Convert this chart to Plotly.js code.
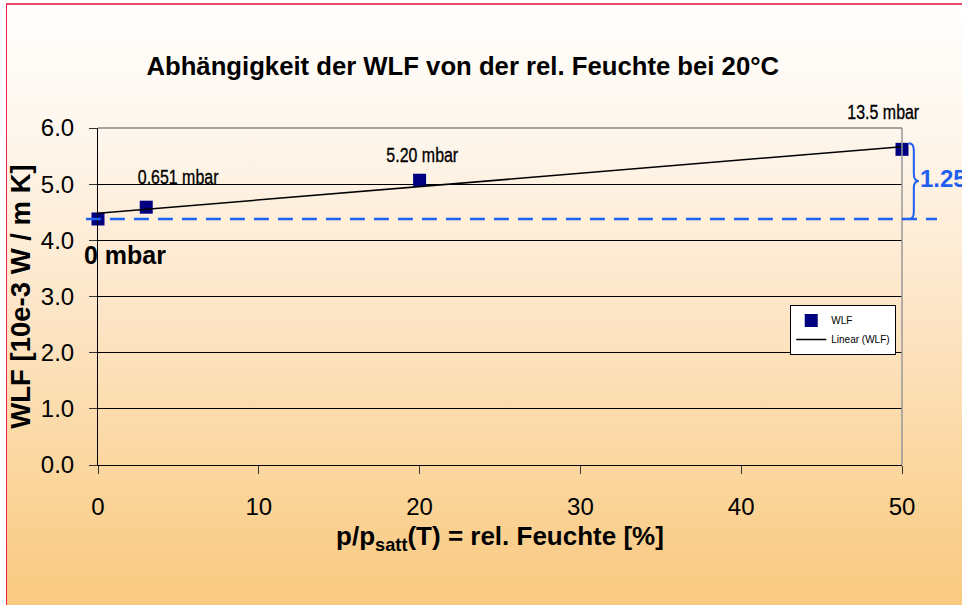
<!DOCTYPE html>
<html>
<head>
<meta charset="utf-8">
<script src="https://cdn.plot.ly/plotly-3.0.1.min.js"></script>
<style>
html,body{margin:0;padding:0;width:962px;height:605px;overflow:hidden;background:#fff;}
#bg{position:absolute;left:6px;top:3px;width:956px;height:602px;
  border-left:1.5px solid #f0204a;border-top:2px solid #ec4a66;box-sizing:border-box;
  background:linear-gradient(to bottom,#fffefd 0%,#fef6ec 22%,#fde6c8 50%,#fbd69e 78%,#f9c97f 100%);}
#chart{position:absolute;left:0;top:0;width:962px;height:605px;}
.narrowlbl text{transform-box:fill-box;transform-origin:center;transform:scaleX(0.76);
  stroke:#000;stroke-width:0.35px;}
</style>
</head>
<body>
<div id="bg"></div>
<div id="chart"></div>
<script>
// Data
const humidity = [0, 3, 20, 50];                  // rel. Feuchte [%]
const wlf = [4.38, 4.59, 5.07, 5.62];             // WLF [10e-3 W / m K]
const pointLabels = ['0 mbar', '0.651 mbar', '5.20 mbar', '13.5 mbar'];
const xTicks = [0, 10, 20, 30, 40, 50];
const yTicks = [0, 1, 2, 3, 4, 5, 6];
const yTickText = ['0.0', '1.0', '2.0', '3.0', '4.0', '5.0', '6.0'];
const diffLabel = '1.25';

// Linear trendline (least squares) from data
const n = humidity.length;
const mx = humidity.reduce((a, b) => a + b, 0) / n;
const my = wlf.reduce((a, b) => a + b, 0) / n;
let sxy = 0, sxx = 0;
for (let i = 0; i < n; i++) { sxy += (humidity[i] - mx) * (wlf[i] - my); sxx += (humidity[i] - mx) ** 2; }
const slope = sxy / sxx, intercept = my - slope * mx;
const trendX = [humidity[0], humidity[n - 1]];
const trendY = trendX.map(x => intercept + slope * x);

const sans = '"Liberation Sans", Arial, sans-serif';

const traces = [
  {x: humidity, y: wlf, type: 'scatter', mode: 'markers', name: 'WLF', cliponaxis: false,
   marker: {symbol: 'square', size: 13, color: '#000080'}},
  {x: trendX, y: trendY, type: 'scatter', mode: 'lines', name: 'Linear (WLF)',
   line: {color: '#000000', width: 1.5}}
];

const labelShift = [[27, -36], [32, 31], [3, 26], [-19, 38]];
const annotations = pointLabels.map((t, i) => ({
  x: humidity[i], y: wlf[i], xref: 'x', yref: 'y', text: t, showarrow: false,
  xshift: labelShift[i][0], yshift: labelShift[i][1],
  font: i === 0 ? {family: sans, size: 25, color: '#000', weight: 'bold'}
                : {family: sans, size: 21, color: '#000'}
}));
annotations.push({
  x: 1.0205, xref: 'paper', y: (wlf[0] + wlf[n - 1]) / 2 + 0.1, yref: 'y', xanchor: 'left',
  text: '<b>' + diffLabel + '</b>', showarrow: false,
  font: {family: sans, size: 24, color: '#1f5ff0'}
});

// brace path (x in paper, y in data)
const bx0 = 1.0085, bw = 0.0062;
const yt = 5.73, yb = wlf[0], ym = (yt + yb) / 2, r = 0.13;
const brace = `M ${bx0},${yt} Q ${bx0 + bw},${yt} ${bx0 + bw},${yt - r} L ${bx0 + bw},${ym + r} Q ${bx0 + bw},${ym} ${bx0 + 2 * bw},${ym} Q ${bx0 + bw},${ym} ${bx0 + bw},${ym - r} L ${bx0 + bw},${yb + r} Q ${bx0 + bw},${yb} ${bx0},${yb}`;

const layout = {
  width: 962, height: 605,
  margin: {l: 98, r: 60, t: 128, b: 140},
  paper_bgcolor: 'rgba(0,0,0,0)', plot_bgcolor: 'rgba(0,0,0,0)',
  font: {family: sans, color: '#000'},
  title: {text: '<b>Abhängigkeit der WLF von der rel. Feuchte bei 20°C</b>',
          x: 0.481, xanchor: 'center', y: 0.891, yanchor: 'middle',
          font: {family: sans, size: 25.7, color: '#000'}},
  xaxis: {range: [0, 50], tickvals: xTicks, ticks: 'outside', ticklen: 8, tickcolor: '#333',
          showline: true, linecolor: '#000', linewidth: 1, showgrid: false, zeroline: false,
          tickfont: {size: 24, family: sans}, ticklabelstandoff: 12,
          title: {text: '<b>p/p<sub>satt</sub>(T) = rel. Feuchte [%]</b>', font: {size: 26, family: sans}, standoff: 8}},
  yaxis: {range: [0, 6], tickvals: yTicks, ticktext: yTickText, ticks: 'outside', ticklen: 8, tickcolor: '#333',
          showline: true, linecolor: '#000', linewidth: 1, showgrid: true, gridcolor: '#000', gridwidth: 1,
          zeroline: false, tickfont: {size: 24, family: sans}, ticklabelstandoff: 10,
          title: {text: '<b>WLF [10e-3 W / m K]</b>', font: {size: 27.5, family: sans}, standoff: 2}},
  showlegend: true,
  legend: {x: 0.861, y: 0.475, xanchor: 'left', yanchor: 'top', bgcolor: '#ffffff',
           bordercolor: '#000', borderwidth: 1, font: {size: 10, family: sans}, tracegroupgap: 0,
           itemwidth: 30},
  shapes: [
    {type: 'line', xref: 'paper', yref: 'paper', x0: 0, x1: 1, y0: 1, y1: 1, line: {color: '#888', width: 1.5}},
    {type: 'line', xref: 'paper', yref: 'paper', x0: 1, x1: 1, y0: 0, y1: 1, line: {color: '#999', width: 1.5}},
    {type: 'line', xref: 'paper', yref: 'y', x0: -0.015, x1: 1.0435, y0: wlf[0], y1: wlf[0],
     line: {color: '#1f5ff0', width: 2.5, dash: '15px,9px'}},
    {type: 'path', xref: 'paper', yref: 'y', path: brace, line: {color: '#1f5ff0', width: 2}}
  ],
  annotations: annotations
};

Plotly.newPlot('chart', traces, layout, {displayModeBar: false, staticPlot: true}).then(gd => {
  const anns = gd.querySelectorAll('.annotation');
  [1, 2, 3].forEach(i => { if (anns[i]) anns[i].classList.add('narrowlbl'); });
});
</script>
</body>
</html>
